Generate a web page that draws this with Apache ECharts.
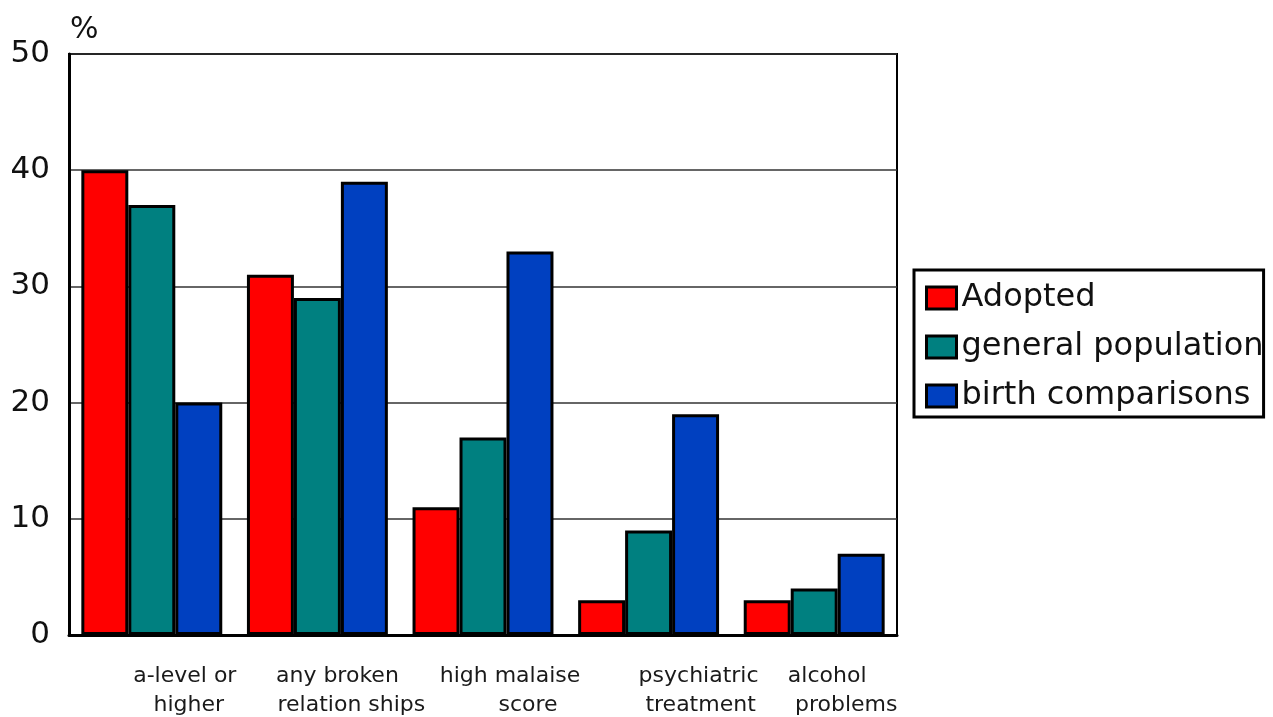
<!DOCTYPE html>
<html>
<head>
<meta charset="utf-8">
<script src="https://cdn.jsdelivr.net/npm/echarts@6/dist/echarts.min.js"></script>
<style>
html,body{margin:0;padding:0;background:#fff;}
#chart{width:1273px;height:717px;}
</style>
</head>
<body>
<div id="chart"></div>
<script>
var categories = ['a-level or\nhigher', 'any broken\nrelation ships', 'high malaise\nscore', 'psychiatric\ntreatment', 'alcohol\nproblems'];
var seriesNames = ['Adopted', 'general population', 'birth comparisons'];
var adopted = [40, 31, 11, 3, 3];
var generalPopulation = [37, 29, 17, 9, 4];
var birthComparisons = [20, 39, 33, 19, 7];
var yTicks = [0, 10, 20, 30, 40, 50];
var colors = ['#FF0000', '#008080', '#0040C0'];
// horizontal shift of each label line (pixels to the right of category centre)
var lineShift = [[33, 37], [20, 34], [27, 45], [50, 52], [13, 32]];

var FONT = 'DejaVu Sans, Liberation Sans, Arial, sans-serif';
var rich = {};
lineShift.forEach(function (pair, i) {
  pair.forEach(function (s, j) {
    rich['c' + i + 'l' + j] = {
      fontSize: 22, fontFamily: FONT, color: '#1a1a1a',
      lineHeight: 29, padding: [0, 0, 0, 2 * s]
    };
  });
});

var chart = echarts.init(document.getElementById('chart'));
var seriesData = [adopted, generalPopulation, birthComparisons];
chart.setOption({
  animation: false,
  backgroundColor: '#fff',
  grid: { left: 69, right: 376, top: 54, bottom: 82, show: true, borderColor: '#000', borderWidth: 2 },
  legend: {
    orient: 'vertical', left: 914, top: 270,
    data: seriesNames,
    icon: 'rect',
    itemWidth: 30, itemHeight: 22, itemGap: 17, itemTextGap: 5,
    padding: [12, 0, 5, 11],
    borderColor: '#000', borderWidth: 3, backgroundColor: '#fff',
    textStyle: { fontSize: 32, lineHeight: 32, fontFamily: FONT, color: '#111' },
    itemStyle: { borderColor: '#000', borderWidth: 3 }
  },
  xAxis: {
    type: 'category', data: categories,
    axisLine: { show: true, lineStyle: { color: '#000', width: 3 } },
    axisTick: { show: false },
    axisLabel: {
      margin: 27, interval: 0,
      formatter: function (v, idx) {
        var lines = v.split('\n');
        return lines.map(function (l, j) { return '{c' + idx + 'l' + j + '|' + l + '}'; }).join('\n');
      },
      rich: rich
    }
  },
  yAxis: {
    type: 'value', min: yTicks[0], max: yTicks[yTicks.length - 1], interval: 10,
    name: '%', nameLocation: 'end', nameGap: 9,
    nameTextStyle: { fontSize: 30, fontFamily: FONT, color: '#111', align: 'left', padding: [0, 0, 0, 1] },
    axisLine: { show: true, lineStyle: { color: '#000', width: 3 } },
    axisTick: { show: false },
    splitLine: { show: true, lineStyle: { color: '#333', width: 1.5 } },
    axisLabel: { fontSize: 31, margin: 19, fontFamily: FONT, color: '#111' }
  },
  series: seriesNames.map(function (n, i) {
    return {
      name: n, type: 'bar', data: seriesData[i],
      barGap: '0%', barCategoryGap: '14.9%',
      itemStyle: { color: colors[i], borderColor: '#000', borderWidth: 3 }
    };
  })
});
</script>
</body>
</html>
